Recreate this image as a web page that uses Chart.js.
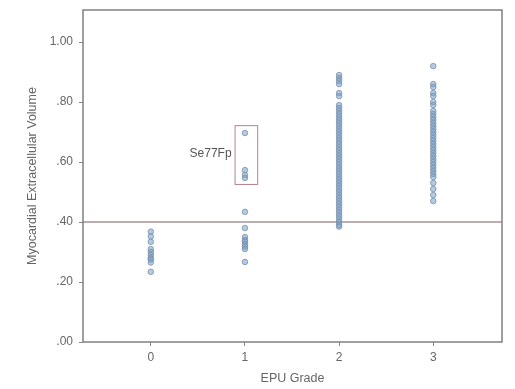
<!DOCTYPE html>
<html><head><meta charset="utf-8">
<script src="https://cdn.jsdelivr.net/npm/chart.js@4/dist/chart.umd.min.js"></script>
<style>html,body{margin:0;padding:0;background:#fff}#wrap{width:515px;height:389px}</style>
</head><body><div id="wrap"><canvas id="c" width="515" height="389"></canvas></div>
<script>
const categories = [0, 1, 2, 3];
const grade0 = [0.368, 0.352, 0.334, 0.31, 0.30, 0.29, 0.28, 0.275, 0.265, 0.234];
const grade1 = [0.697, 0.573, 0.557, 0.547, 0.434, 0.38, 0.35, 0.34, 0.335, 0.325, 0.318, 0.31, 0.267];
const grade2 = [0.89, 0.88, 0.87, 0.86, 0.83, 0.82, 0.79, 0.78, 0.77, 0.76, 0.75, 0.74, 0.73, 0.72, 0.71, 0.70, 0.69, 0.68, 0.67, 0.66, 0.65, 0.64, 0.63, 0.62, 0.61, 0.60, 0.59, 0.58, 0.57, 0.56, 0.55, 0.54, 0.53, 0.52, 0.51, 0.50, 0.49, 0.48, 0.47, 0.46, 0.45, 0.44, 0.43, 0.42, 0.41, 0.40, 0.39, 0.385];
const grade3 = [0.92, 0.86, 0.85, 0.83, 0.82, 0.80, 0.79, 0.77, 0.76, 0.75, 0.74, 0.73, 0.72, 0.71, 0.70, 0.69, 0.68, 0.67, 0.66, 0.65, 0.64, 0.63, 0.62, 0.61, 0.60, 0.59, 0.58, 0.57, 0.56, 0.55, 0.53, 0.51, 0.49, 0.47];
const yTicks = [0, 0.2, 0.4, 0.6, 0.8, 1.0];
const yTickLabels = ['.00', '.20', '.40', '.60', '.80', '1.00'];
const refValue = 0.40;
const annotationLabel = 'Se77Fp';
const annotationBox = {x0: 0.89, x1: 1.13, y0: 0.527, y1: 0.723};

const seriesByGrade = [grade0, grade1, grade2, grade3];
const pts = [];
seriesByGrade.forEach((arr, i) => arr.forEach(v => pts.push({x: categories[i], y: v})));

const XMIN = -0.72, XMAX = 3.73, YMIN = 0, YMAX = 1.107;
const txt = '#666';
const fontFam = '"Liberation Sans", Arial, sans-serif';

const decor = {
  id: 'decor',
  afterDatasetsDraw(chart) {
    const {ctx, chartArea: a, scales: {x, y}} = chart;
    ctx.save();
    const bx0 = x.getPixelForValue(annotationBox.x0), bx1 = x.getPixelForValue(annotationBox.x1);
    const by0 = y.getPixelForValue(annotationBox.y1), by1 = y.getPixelForValue(annotationBox.y0);
    ctx.strokeStyle = 'rgba(175,115,125,0.9)';
    ctx.lineWidth = 1;
    ctx.strokeRect(bx0 + 0.5, by0 + 0.5, bx1 - bx0, by1 - by0);
    ctx.fillStyle = '#555';
    ctx.font = '12px ' + fontFam;
    ctx.textAlign = 'right';
    ctx.textBaseline = 'middle';
    ctx.fillText(annotationLabel, bx0 - 3, y.getPixelForValue(0.627));
    ctx.strokeStyle = '#808080';
    ctx.lineWidth = 1.5;
    ctx.strokeRect(a.left, a.top, a.right - a.left, a.bottom - a.top);
    ctx.restore();
  }
};

new Chart(document.getElementById('c'), {
  type: 'scatter',
  data: {
    datasets: [
      {
        type: 'line',
        data: [{x: XMIN, y: refValue}, {x: XMAX, y: refValue}],
        borderColor: 'rgba(160,135,138,0.9)',
        borderWidth: 1.5,
        pointRadius: 0,
        order: 2
      },
      {
        data: pts,
        backgroundColor: 'rgba(110,160,210,0.55)',
        borderColor: 'rgba(125,140,160,0.75)',
        borderWidth: 1,
        pointRadius: 2.8,
        order: 1
      }
    ]
  },
  options: {
    responsive: false,
    animation: false,
    layout: {padding: {top: 10, right: 13, left: 25, bottom: 0}},
    plugins: {legend: {display: false}, tooltip: {enabled: false}},
    scales: {
      x: {
        type: 'linear', min: XMIN, max: XMAX,
        afterBuildTicks: s => { s.ticks = categories.map(v => ({value: v})); },
        afterFit: s => { s.height = 47; s.paddingLeft = 0; s.paddingRight = 0; },
        ticks: {color: txt, font: {size: 12, family: fontFam}, padding: 4, callback: v => String(v)},
        grid: {drawOnChartArea: false, drawTicks: true, tickLength: 4, color: '#888'},
        border: {display: false},
        title: {display: true, text: 'EPU Grade', color: txt, font: {size: 12.5, family: fontFam}, padding: {top: 0, bottom: 3}}
      },
      y: {
        type: 'linear', min: YMIN, max: YMAX,
        afterBuildTicks: s => { s.ticks = yTicks.map(v => ({value: v})); },
        afterFit: s => { s.width = 58; s.paddingTop = 0; s.paddingBottom = 0; },
        ticks: {color: txt, font: {size: 12, family: fontFam}, padding: 6,
          callback: v => { const i = yTicks.findIndex(t => Math.abs(t - v) < 1e-6); return i >= 0 ? yTickLabels[i] : ''; }},
        grid: {drawOnChartArea: false, drawTicks: true, tickLength: 4, color: '#888'},
        border: {display: false},
        title: {display: true, text: 'Myocardial Extracellular Volume', color: txt, font: {size: 12.5, family: fontFam}, padding: {top: 0, bottom: 6}}
      }
    }
  },
  plugins: [decor]
});
</script></body></html>
